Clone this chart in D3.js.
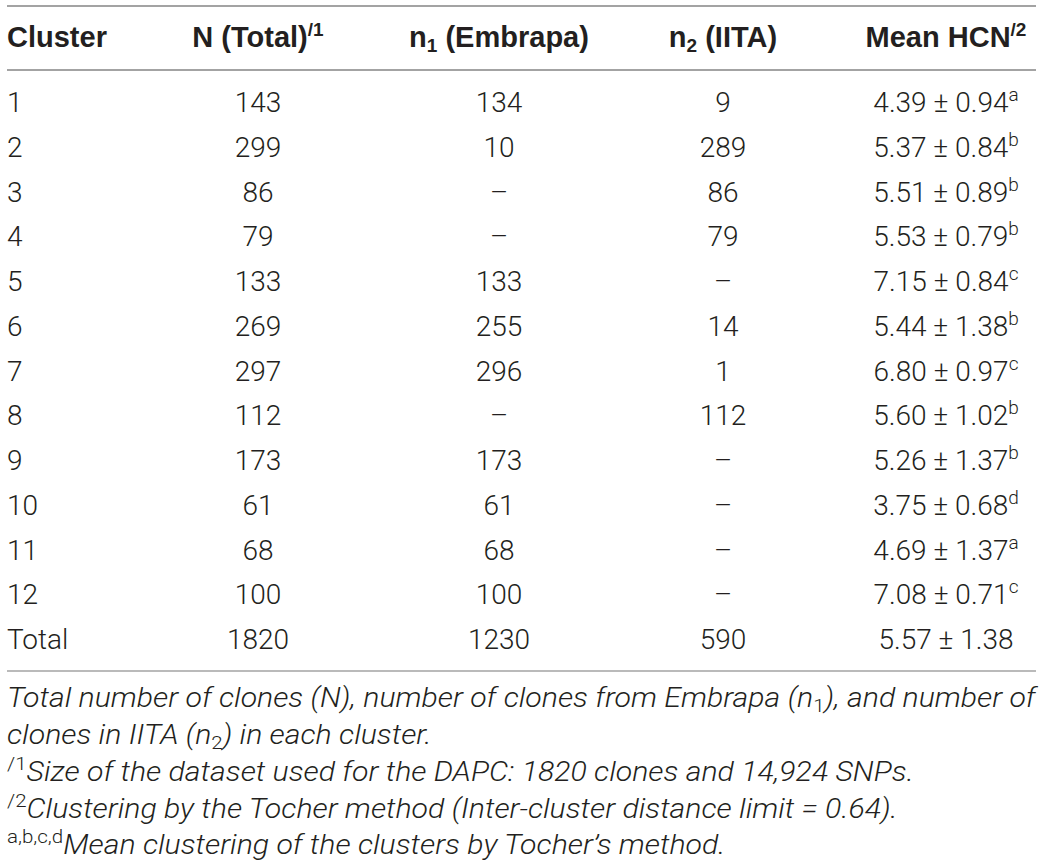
<!DOCTYPE html>
<html>
<head>
<meta charset="utf-8">
<script src="https://cdn.jsdelivr.net/npm/d3@7"></script>
<style>
  html, body { margin: 0; padding: 0; background: #ffffff; }
  svg { display: block; }
</style>
</head>
<body>
<div id="chart"></div>
<script>
// ---------------- DATA ----------------
const clusters  = ["1","2","3","4","5","6","7","8","9","10","11","12","Total"];
const nTotal    = [143, 299, 86, 79, 133, 269, 297, 112, 173, 61, 68, 100, 1820];
const nEmbrapa  = [134, 10, null, null, 133, 255, 296, null, 173, 61, 68, 100, 1230];
const nIITA     = [9, 289, 86, 79, null, 14, 1, 112, null, null, null, null, 590];
const hcnMean   = ["4.39","5.37","5.51","5.53","7.15","5.44","6.80","5.60","5.26","3.75","4.69","7.08","5.57"];
const hcnSD     = ["0.94","0.84","0.89","0.79","0.84","1.38","0.97","1.02","1.37","0.68","1.37","0.71","1.38"];
const hcnGroup  = ["a","b","b","b","c","b","c","b","b","d","a","c",""];

const columnKeys = ["cluster","nTotal","nEmbrapa","nIITA","hcn"];
const headers = [
  [{t:"Cluster"}],
  [{t:"N (Total)"},{t:"/1", sup:true}],
  [{t:"n"},{t:"1", sub:true},{t:" (Embrapa)"}],
  [{t:"n"},{t:"2", sub:true},{t:" (IITA)"}],
  [{t:"Mean HCN"},{t:"/2", sup:true}]
];
const footnotes = [
  [{t:"Total number of clones (N), number of clones from Embrapa (n"},{t:"1", sub:true, upright:true},{t:"), and number of"}],
  [{t:"clones in IITA (n"},{t:"2", sub:true, upright:true},{t:") in each cluster."}],
  [{t:"/1", sup:true, upright:true},{t:"Size of the dataset used for the DAPC: 1820 clones and 14,924 SNPs."}],
  [{t:"/2", sup:true, upright:true},{t:"Clustering by the Tocher method (Inter-cluster distance limit = 0.64)."}],
  [{t:"a,b,c,d", sup:true, upright:true},{t:"Mean clustering of the clusters by Tocher\u2019s method."}]
];

// ---------------- LAYOUT ----------------
const W = 1043, H = 867;
const textColor = "#231f20";
const ruleColor = "#a3a3a3";
const bodyFont = "Roboto, 'Liberation Sans', Arial, sans-serif";
const headFont = "'Liberation Sans', Arial, sans-serif";
const FS = 28, HFS = 29, SMALL = 19;

const svg = d3.select("#chart").append("svg")
  .attr("width", W).attr("height", H).attr("viewBox", `0 0 ${W} ${H}`);

const x = d3.scaleOrdinal().domain(columnKeys).range([7, 258, 499, 723, 946]);
const anchor = d3.scaleOrdinal().domain(columnKeys).range(["start","middle","middle","middle","middle"]);
const y = d3.scalePoint().domain(clusters).range([112, 649]);

// rules
const rules = [6, 70, 671];
svg.selectAll("line.rule").data(rules).join("line")
  .attr("class","rule")
  .attr("x1", 7).attr("x2", 1036)
  .attr("y1", d => d).attr("y2", d => d)
  .attr("stroke", ruleColor).attr("stroke-width", (d,i) => i === 2 ? 1.5 : 2);

function rich(textSel, segs, small, supShift, subShift) {
  let offset = 0;
  segs.forEach(s => {
    const ts = textSel.append("tspan").text(s.t);
    let target = 0;
    if (s.sup) { ts.attr("font-size", small); target = -supShift; }
    else if (s.sub) { ts.attr("font-size", small); target = subShift; }
    if (s.upright) ts.attr("font-style", "normal");
    ts.attr("dy", target - offset);
    offset = target;
  });
}

// header
const headG = svg.append("g");
headers.forEach((segs, i) => {
  const t = headG.append("text")
    .attr("x", x(columnKeys[i])).attr("y", 47)
    .attr("text-anchor", anchor(columnKeys[i]))
    .attr("font-family", headFont).attr("font-weight", "bold")
    .attr("font-size", HFS).attr("fill", textColor);
  rich(t, segs, SMALL, 11, 5);
});

// body rows
const rowsData = clusters.map((c, i) => ({
  cluster: c,
  cells: [
    [{t: c}],
    [{t: String(nTotal[i])}],
    [{t: nEmbrapa[i] == null ? "\u2013" : String(nEmbrapa[i])}],
    [{t: nIITA[i] == null ? "\u2013" : String(nIITA[i])}],
    hcnGroup[i] ? [{t: `${hcnMean[i]} \u00b1 ${hcnSD[i]}`},{t: hcnGroup[i], sup:true}]
                : [{t: `${hcnMean[i]} \u00b1 ${hcnSD[i]}`}]
  ]
}));

const rowG = svg.append("g").selectAll("g.row").data(rowsData).join("g")
  .attr("class","row")
  .attr("transform", d => `translate(0,${y(d.cluster)})`);

rowG.each(function(d) {
  const g = d3.select(this);
  d.cells.forEach((segs, j) => {
    const t = g.append("text")
      .attr("x", x(columnKeys[j])).attr("y", 0)
      .attr("text-anchor", anchor(columnKeys[j]))
      .attr("font-family", bodyFont).attr("font-weight", 300)
      .attr("font-size", FS).attr("fill", textColor);
    rich(t, segs, SMALL, 11, 5);
  });
});

// footnotes
const footY = [707, 744, 781, 818, 854];
const footG = svg.append("g");
const footTexts = footnotes.map((segs, i) => {
  const g = footG.append("g").attr("transform", `translate(7,${footY[i]})`);
  const t = g.append("text")
    .attr("x", 0).attr("y", 0)
    .attr("font-family", bodyFont).attr("font-weight", 300)
    .attr("font-style", "italic")
    .attr("font-size", FS).attr("fill", textColor);
  rich(t, segs, SMALL, 11, 5);
  return {g, t};
});
// fit the first (full-width) footnote line to the column width and apply same condensation to all
const w0 = footTexts[0].t.node().getComputedTextLength();
const k = Math.min(1.2, 1029 / w0);
footTexts.forEach(f => f.g.attr("transform", f.g.attr("transform") + ` scale(${k},1)`));
</script>
</body>
</html>
